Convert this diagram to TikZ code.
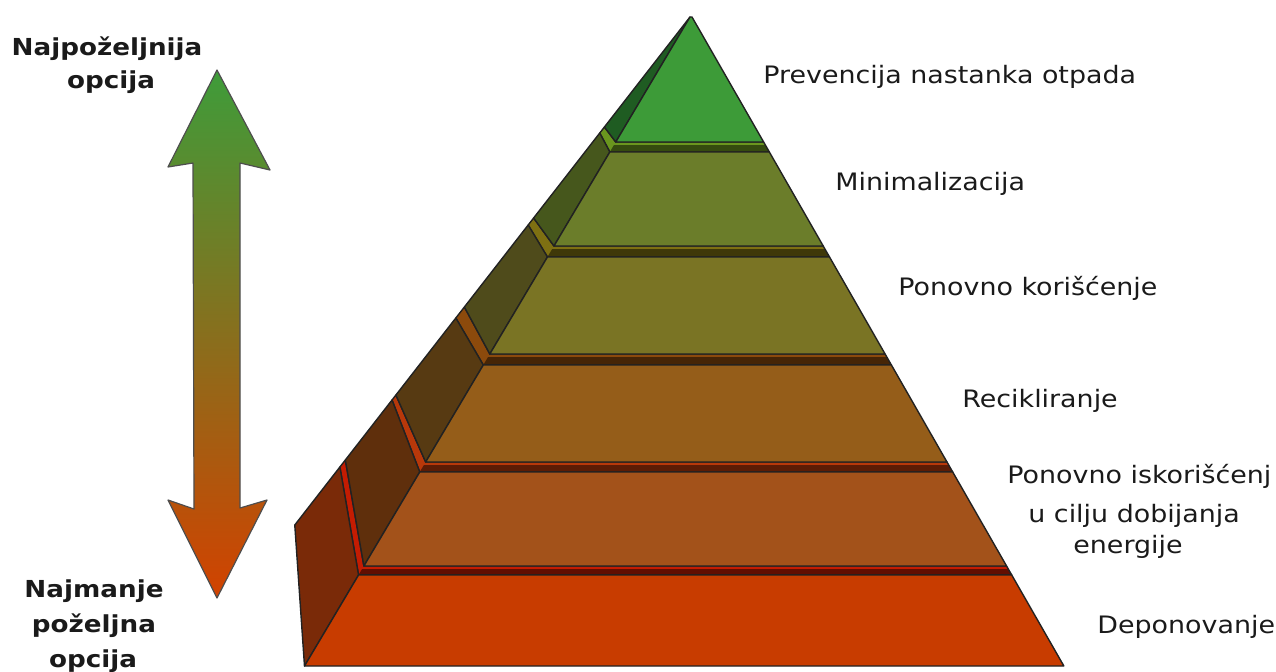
\documentclass[tikz,border=0pt]{standalone}
\usepackage{fontspec}
\setmainfont{DejaVu Sans}[FakeStretch=1.12]
\definecolor{edge}{HTML}{222222}
\definecolor{txt}{HTML}{1A1A1A}
\definecolor{frontA}{HTML}{C83C00}\definecolor{sideA}{HTML}{7A2A08}\definecolor{ledgeA}{HTML}{C41C02}
\definecolor{frontB}{HTML}{A3521A}\definecolor{sideB}{HTML}{5F2F0C}\definecolor{ledgeB}{HTML}{B8380A}
\definecolor{frontC}{HTML}{955D19}\definecolor{sideC}{HTML}{573A12}\definecolor{ledgeC}{HTML}{8C4A0C}
\definecolor{frontD}{HTML}{7A7424}\definecolor{sideD}{HTML}{4F4B1B}\definecolor{ledgeD}{HTML}{7E7012}
\definecolor{frontE}{HTML}{6B7D2A}\definecolor{sideE}{HTML}{46571C}\definecolor{ledgeE}{HTML}{6A961E}
\definecolor{frontF}{HTML}{3D9B38}\definecolor{sideF}{HTML}{1F5C22}
\definecolor{arrTop}{HTML}{3E9C3A}\definecolor{arrMid}{HTML}{7A6A1C}\definecolor{arrBot}{HTML}{D24200}

\begin{document}
\begin{tikzpicture}[x=0.5pt, y=-0.5pt, every node/.style={font=\fontsize{12}{14}\selectfont, text=txt, inner sep=0pt}, lbl/.style={anchor=base west}, hdr/.style={anchor=base, font=\fontsize{11.7}{14}\selectfont\bfseries}, face/.style={draw=edge, line width=0.7pt, line join=round}]
\useasboundingbox (0,0) rectangle (1276,671);
% double arrow on the left
\shade[top color=arrTop, middle color=arrMid, bottom color=arrBot]
  (217,70) -- (270,170) -- (240,163) -- (240,508) -- (267,500) -- (217,598) -- (168,500) -- (194,509) -- (193,163) -- (168,167) -- cycle;
\draw[edge!80, line width=0.6pt, line join=round]
  (217,70) -- (270,170) -- (240,163) -- (240,508) -- (267,500) -- (217,598) -- (168,500) -- (194,509) -- (193,163) -- (168,167) -- cycle;
% ledges between the layers
\foreach \yu/\bu/\yt/\bt/\lc in {566/460/575/467/ledgeA, 462/395/472/400/ledgeB, 354/307/365/318/ledgeC, 246/218/257/225/ledgeD, 142/127/152/133/ledgeE}{
  \pgfmathsetmacro\xlu{690-0.594*(\yu-17)} \pgfmathsetmacro\xru{692+0.573*(\yu-17)}
  \pgfmathsetmacro\xlt{690-0.594*(\yt-17)} \pgfmathsetmacro\xrt{692+0.573*(\yt-17)}
  \pgfmathsetmacro\xou{690-0.778*(\bu-17)} \pgfmathsetmacro\xot{690-0.778*(\bt-17)}
  \pgfmathsetmacro\ym{\yu+3} \pgfmathsetmacro\xlm{690-0.594*(\ym-17)} \pgfmathsetmacro\xrm{692+0.573*(\ym-17)}
  \fill[\lc] (\xlu,\yu) -- (\xru,\yu) -- (\xrt,\yt) -- (\xlt,\yt) -- (\xot,\bt) -- (\xou,\bu) -- cycle;
  \fill[\lc!50!black] (\xlm,\ym) -- (\xrm,\ym) -- (\xrt,\yt) -- (\xlt,\yt) -- cycle;
  \draw[face] (\xlu,\yu) -- (\xru,\yu) -- (\xrt,\yt) -- (\xlt,\yt) -- (\xot,\bt) -- (\xou,\bu) -- cycle;
}
% front and side faces of the layers
\foreach \yt/\yb/\bt/\bb/\fc/\sc in {575/666/467/525/frontA/sideA, 472/566/400/460/frontB/sideB, 365/462/318/395/frontC/sideC, 257/354/225/307/frontD/sideD, 152/246/133/218/frontE/sideE, 17/142/17/127/frontF/sideF}{
  \pgfmathsetmacro\xlt{690-0.594*(\yt-17)} \pgfmathsetmacro\xrt{692+0.573*(\yt-17)}
  \pgfmathsetmacro\xlb{690-0.594*(\yb-17)} \pgfmathsetmacro\xrb{692+0.573*(\yb-17)}
  \pgfmathsetmacro\xot{690-0.778*(\bt-17)} \pgfmathsetmacro\xob{690-0.778*(\bb-17)}
  \filldraw[face, fill=\sc] (\xlt,\yt) -- (\xot,\bt) -- (\xob,\bb) -- (\xlb,\yb) -- cycle;
  \filldraw[face, fill=\fc] (\xlt,\yt) -- (\xrt,\yt) -- (\xrb,\yb) -- (\xlb,\yb) -- cycle;
}
% labels
\node[hdr] (najTop) at (107,55) {Najpoželjnija};
\node[hdr] (najTopB) at (111,88) {opcija};
\node[hdr] (najBot) at (94,597) {Najmanje};
\node[hdr] (najBotB) at (94,632) {poželjna};
\node[hdr] (najBotC) at (93,667) {opcija};
\node[lbl] (prevencija) at (763,83) {Prevencija nastanka otpada};
\node[lbl] (minimalizacija) at (835,190) {Minimalizacija};
\node[lbl] (koriscenje) at (898,295) {Ponovno korišćenje};
\node[lbl] (recikliranje) at (962,407) {Recikliranje};
\node[lbl] (energija) at (1007,483) {Ponovno iskorišćenj};
\node[lbl] (energijaB) at (1028,522) {u cilju dobijanja};
\node[lbl] (energijaC) at (1073,553) {energije};
\node[lbl] (deponovanje) at (1097,633) {Deponovanje};
\end{tikzpicture}
\end{document}
